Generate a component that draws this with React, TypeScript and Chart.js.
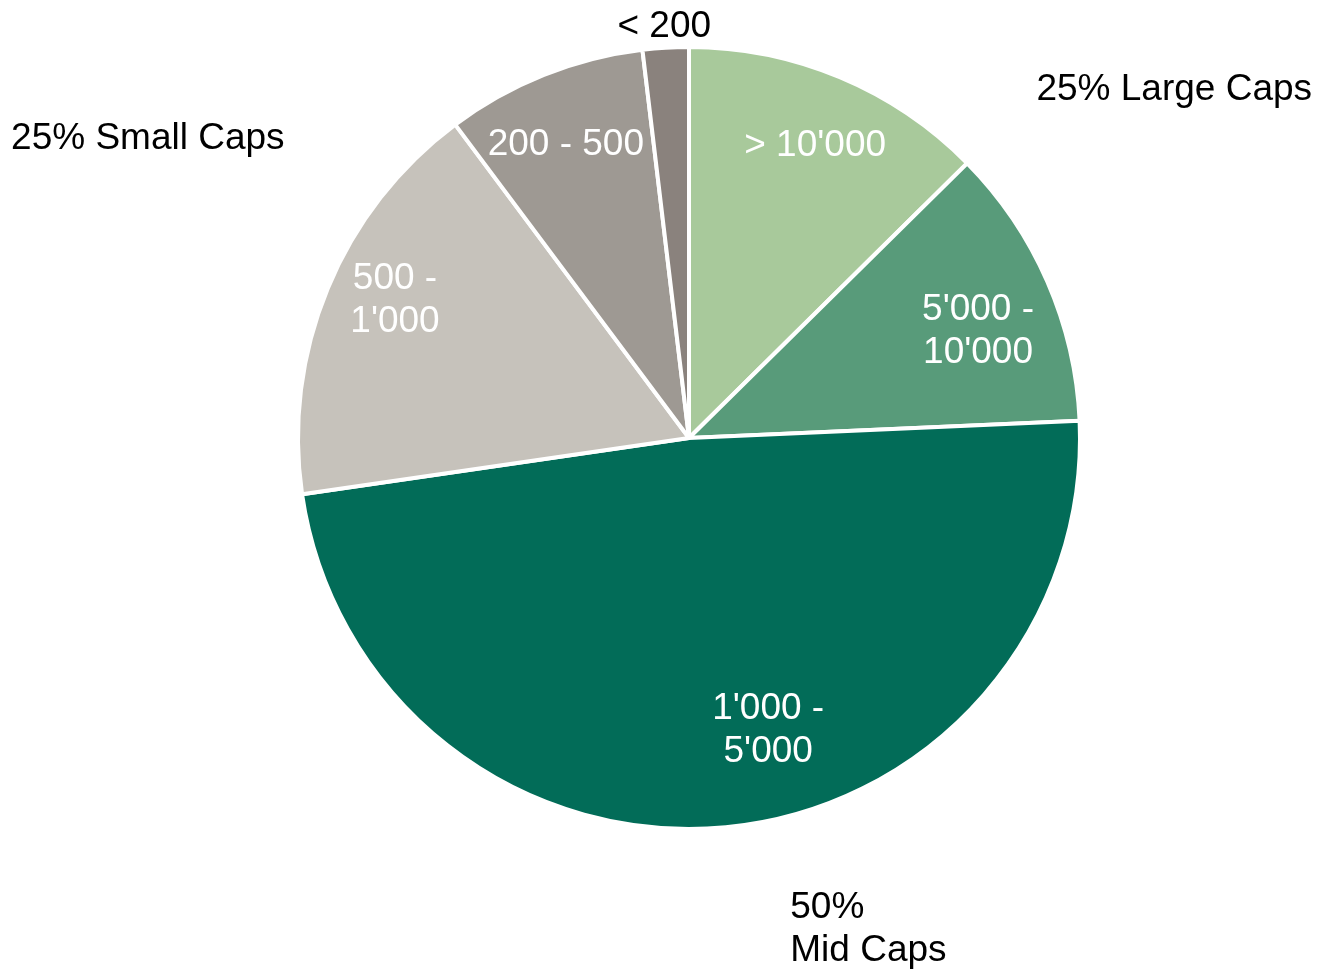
import React, { useEffect, useRef } from "react";
import { Chart, registerables } from "chart.js";

Chart.register(...registerables);

const categories = ["> 10'000", "5'000 - 10'000", "1'000 - 5'000", "500 - 1'000", "200 - 500", "< 200"];
const shares = [12.6, 11.7, 48.4, 17.1, 8.3, 1.9];
const sliceLabelLines = [["> 10'000"], ["5'000 -", "10'000"], ["1'000 -", "5'000"], ["500 -", "1'000"], ["200 - 500"], ["< 200"]];
const groupLabelLines = [["25% Large Caps"], ["25% Small Caps"], ["50%", "Mid Caps"]];

const sliceColors = ["#a8c99b", "#589b7a", "#026c58", "#c6c2bb", "#9e9993", "#8a827d"];
// placement: fraction along the arc, fraction of radius, text colour
const slicePlacement = [
  { t: 0.51, rf: 0.821, color: "#ffffff" },
  { t: 0.565, rf: 0.791, color: "#ffffff" },
  { t: 0.443, rf: 0.766, color: "#ffffff" },
  { t: 0.551, rf: 0.834, color: "#ffffff" },
  { t: 0.473, rf: 0.82, color: "#ffffff" },
  { t: 0.5, rf: 1.061, color: "#000000" },
];
// group labels relative to pie center in radius units
const groupPlacement = [
  { fx: 1.241, fy: -0.898, align: "center" },
  { fx: -1.384, fy: -0.772, align: "center" },
  { fx: 0.259, fy: 1.194, align: "left" },
];

const FONT = '37px "Liberation Sans", Arial, sans-serif';
const LINE_H = 43;
const TEXT_DY = 3;

const labelPlugin = {
  id: "sliceLabels",
  afterDatasetsDraw(chart: any) {
    const ctx = chart.ctx;
    const meta = chart.getDatasetMeta(0);
    ctx.save();
    ctx.font = FONT;
    ctx.textBaseline = "middle";
    meta.data.forEach((arc: any, i: number) => {
      const p = slicePlacement[i];
      const a = arc.startAngle + p.t * (arc.endAngle - arc.startAngle);
      const r = p.rf * arc.outerRadius;
      const x = arc.x + r * Math.cos(a);
      const y = arc.y + r * Math.sin(a) + TEXT_DY;
      const lines = sliceLabelLines[i];
      ctx.fillStyle = p.color;
      ctx.textAlign = "center";
      const y0 = y - ((lines.length - 1) * LINE_H) / 2;
      lines.forEach((ln, k) => ctx.fillText(ln, x, y0 + k * LINE_H));
    });
    const first = meta.data[0];
    const cx = first.x, cy = first.y, R = first.outerRadius;
    ctx.fillStyle = "#000000";
    groupLabelLines.forEach((lines, i) => {
      const g = groupPlacement[i];
      ctx.textAlign = g.align;
      const x = cx + g.fx * R;
      const y = cy + g.fy * R + TEXT_DY;
      lines.forEach((ln, k) => ctx.fillText(ln, x, y + k * LINE_H));
    });
    ctx.restore();
  },
};

export default function App() {
  const ref = useRef<HTMLCanvasElement>(null);
  useEffect(() => {
    if (!ref.current) return;
    const chart = new Chart(ref.current, {
      type: "pie",
      data: {
        labels: categories,
        datasets: [
          {
            data: shares,
            backgroundColor: sliceColors,
            borderColor: "#ffffff",
            borderWidth: 4,
          },
        ],
      },
      options: {
        animation: false,
        responsive: false,
        layout: { padding: { top: 45, left: 296, right: 238, bottom: 140 } },
        plugins: {
          legend: { display: false },
          tooltip: { enabled: false },
        },
      },
      plugins: [labelPlugin],
    });
    return () => chart.destroy();
  }, []);
  return (
    <div style={{ position: "absolute", left: 0, top: 0, width: 1320, height: 971, background: "#ffffff" }}>
      <canvas ref={ref} width={1320} height={971} />
    </div>
  );
}
